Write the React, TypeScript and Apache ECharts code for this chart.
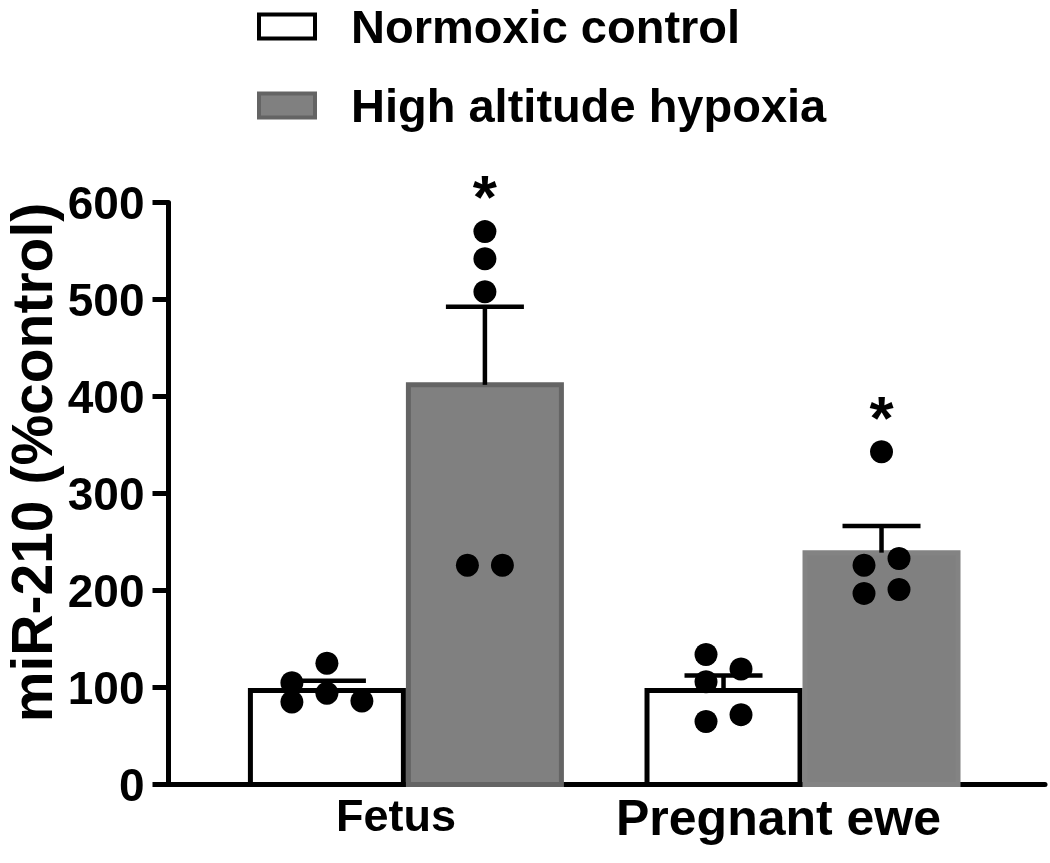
import React, { useEffect, useRef } from 'react';
import * as echarts from 'echarts';

const categories = ['Fetus', 'Pregnant ewe'];
const groupNames = ['Normoxic control', 'High altitude hypoxia'];
const yTicks = [0, 100, 200, 300, 400, 500, 600];

const normoxicMean = [97, 97];
const normoxicSem = [10, 15.5];
const hypoxiaMean = [412, 239];
const hypoxiaSem = [80.5, 27.5];

const normoxicFetusPoints = [105, 125, 85, 94, 86];
const normoxicEwePoints = [134, 119, 106, 65, 72];
const hypoxiaFetusPoints = [570, 542, 508, 226, 226];
const hypoxiaEwePoints = [343, 233, 226, 197, 201];

// column slot of each point inside its bar (GraphPad scatter spread)
const normoxicFetusSlots = [-1, 0, -1, 0, 1];
const normoxicEweSlots = [-0.5, 0.5, -0.5, -0.5, 0.5];
const hypoxiaFetusSlots = [0, 0, 0, -0.5, 0.5];
const hypoxiaEweSlots = [0, 0.5, -0.5, -0.5, 0.5];

const significanceMark = ['*', '*'];
const significanceLevel = [606, 378];

const FONT = '"Liberation Sans", Arial, Helvetica, sans-serif';
const BAR_W = 153;
const HALF = 79;
const STEP = 35;
const CAP = 39;

const normoxicStyles = [
  { fill: '#ffffff', stroke: '#000000', lw: 5 },
  { fill: '#ffffff', stroke: '#000000', lw: 5 },
];
const hypoxiaStyles = [
  { fill: '#808080', stroke: '#646464', lw: 5 },
  { fill: '#808080', stroke: '#838383', lw: 5 },
];

const labelRich = {
  c0: { fontSize: 45, fontWeight: 'bold', color: '#000', fontFamily: FONT, padding: [0, 20, 0, 0] },
  c1: { fontSize: 50, fontWeight: 'bold', color: '#000', fontFamily: FONT, padding: [0, 48, 0, 0] },
};

function barRender(offset: number, styles: any[]) {
  return (params: any, api: any) => {
    const x = api.value(0);
    const y = api.value(1);
    const top = api.coord([x, y]);
    const base = api.coord([x, 0]);
    const s = styles[params.dataIndex];
    return {
      type: 'rect',
      shape: { x: top[0] + offset - BAR_W / 2, y: top[1], width: BAR_W, height: base[1] - top[1] },
      style: { fill: s.fill, stroke: s.stroke, lineWidth: s.lw },
    };
  };
}

function errRender(offset: number) {
  return (params: any, api: any) => {
    const x = api.value(0);
    const m = api.value(1);
    const e = api.value(2);
    const p0 = api.coord([x, m]);
    const p1 = api.coord([x, m + e]);
    const cx = p0[0] + offset;
    return {
      type: 'group',
      children: [
        { type: 'line', shape: { x1: cx, y1: p0[1], x2: cx, y2: p1[1] }, style: { stroke: '#000', lineWidth: 4.5 } },
        { type: 'line', shape: { x1: cx - CAP, y1: p1[1], x2: cx + CAP, y2: p1[1] }, style: { stroke: '#000', lineWidth: 4.5 } },
      ],
    };
  };
}

function points(cat: number, side: number, vals: number[], slots: number[]) {
  return vals.map((v, i) => ({ value: [cat, v], symbolOffset: [side * HALF + slots[i] * STEP, 0] }));
}

export default function App() {
  const ref = useRef<HTMLDivElement>(null);
  useEffect(() => {
    if (!ref.current) return;
    const chart = echarts.init(ref.current, null, { renderer: 'svg' });
    const dots = [
      ...points(0, -1, normoxicFetusPoints, normoxicFetusSlots),
      ...points(1, -1, normoxicEwePoints, normoxicEweSlots),
      ...points(0, 1, hypoxiaFetusPoints, hypoxiaFetusSlots),
      ...points(1, 1, hypoxiaEwePoints, hypoxiaEweSlots),
    ];
    chart.setOption({
      animation: false,
      textStyle: { fontFamily: FONT },
      legend: {
        orient: 'vertical',
        left: 257,
        top: 3,
        padding: 0,
        itemWidth: 56,
        itemHeight: 24,
        itemGap: 32,
        selectedMode: false,
        textStyle: { fontSize: 47, fontWeight: 'bold', color: '#000', fontFamily: FONT, lineHeight: 46, padding: [0, 0, 0, 31] },
        data: [
          { name: groupNames[0], icon: 'rect', itemStyle: { color: '#ffffff', borderColor: '#000000', borderWidth: 4 } },
          { name: groupNames[1], icon: 'rect', itemStyle: { color: '#808080', borderColor: '#646464', borderWidth: 4 } },
        ],
      },
      grid: { left: 168.5, right: 5, top: 202.5, bottom: 78.5, containLabel: false, outerBoundsMode: 'none' },
      xAxis: {
        type: 'value',
        min: -0.5986,
        max: 1.6114,
        splitLine: { show: false },
        axisTick: { show: false },
        axisLine: { show: true, onZero: false, lineStyle: { color: '#000', width: 5 } },
        axisLabel: {
          customValues: [0, 1],
          formatter: (v: number) => {
            const i = Math.round(v);
            return categories[i] !== undefined ? `{c${i}|${categories[i]}}` : '';
          },
          rich: labelRich,
          fontSize: 47,
          fontWeight: 'bold',
          color: '#000',
          fontFamily: FONT,
          margin: 8,
        },
      },
      yAxis: {
        type: 'value',
        min: yTicks[0],
        max: yTicks[yTicks.length - 1],
        interval: 100,
        name: 'miR-210 (%control)',
        nameLocation: 'middle',
        nameGap: 108,
        nameMoveOverlap: false,
        nameTextStyle: { fontSize: 57, fontWeight: 'bold', color: '#000', fontFamily: FONT, padding: [0, 0, 0, 62] },
        splitLine: { show: false },
        axisLine: { show: true, onZero: false, lineStyle: { color: '#000', width: 5 } },
        axisTick: { show: true, length: 16, lineStyle: { color: '#000', width: 5 } },
        axisLabel: { fontSize: 46, fontWeight: 'bold', color: '#000', fontFamily: FONT, margin: 24 },
      },
      series: [
        {
          name: groupNames[0],
          type: 'custom',
          z: 1,
          itemStyle: { color: '#ffffff', borderColor: '#000' },
          renderItem: barRender(-HALF, normoxicStyles),
          encode: { x: 0, y: 1 },
          data: categories.map((_, i) => [i, normoxicMean[i]]),
        },
        {
          name: groupNames[1],
          type: 'custom',
          z: 1,
          itemStyle: { color: '#808080', borderColor: '#646464' },
          renderItem: barRender(HALF, hypoxiaStyles),
          encode: { x: 0, y: 1 },
          data: categories.map((_, i) => [i, hypoxiaMean[i]]),
        },
        {
          name: 'SEM normoxic',
          type: 'custom',
          z: 2,
          renderItem: errRender(-HALF),
          encode: { x: 0, y: [1, 2] },
          data: categories.map((_, i) => [i, normoxicMean[i], normoxicSem[i]]),
        },
        {
          name: 'SEM hypoxia',
          type: 'custom',
          z: 2,
          renderItem: errRender(HALF),
          encode: { x: 0, y: [1, 2] },
          data: categories.map((_, i) => [i, hypoxiaMean[i], hypoxiaSem[i]]),
        },
        {
          name: 'Individual values',
          type: 'scatter',
          z: 3,
          symbol: 'circle',
          symbolSize: 23,
          itemStyle: { color: '#000', opacity: 1 },
          data: dots,
        },
        {
          name: 'Significance',
          type: 'custom',
          z: 4,
          encode: { x: 0, y: 1 },
          renderItem: (params: any, api: any) => {
            const p = api.coord([api.value(0), api.value(1)]);
            return {
              type: 'text',
              x: p[0] + HALF,
              y: p[1],
              style: {
                text: significanceMark[params.dataIndex],
                fontSize: 62,
                fontWeight: 'bold',
                fontFamily: FONT,
                fill: '#000',
                align: 'center',
                verticalAlign: 'middle',
              },
            };
          },
          data: categories.map((_, i) => [i, significanceLevel[i]]),
        },
      ],
    });
    return () => chart.dispose();
  }, []);
  return <div ref={ref} style={{ position: 'fixed', left: 0, top: 0, width: 1050, height: 863 }} />;
}
